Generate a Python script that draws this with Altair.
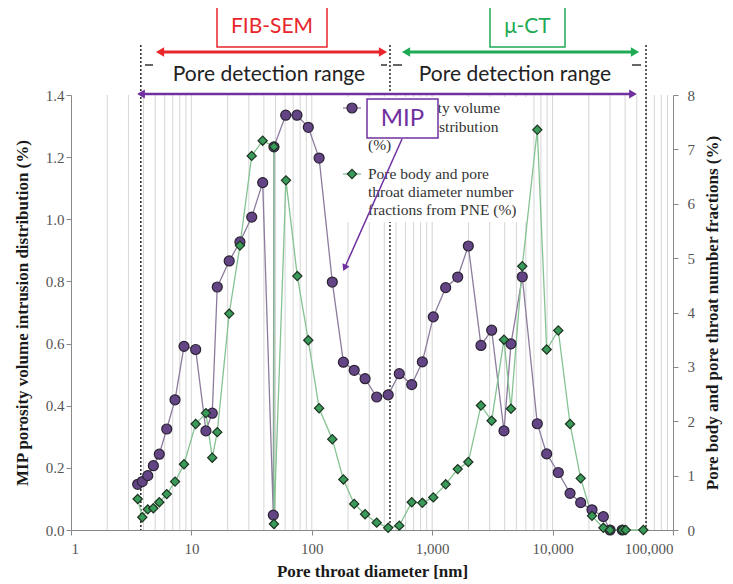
import altair as alt
import pandas as pd

# ---------------- data ----------------
mip_x = [3.58, 3.91, 4.34, 4.83, 5.41, 6.24, 7.31, 8.68, 10.85, 13.2, 14.9, 16.4, 20.6, 25.3,
         31.7, 39.1, 47.9, 48.5, 60.7, 75.3, 93.5, 115, 148, 183, 225, 277, 346, 431, 533,
         676, 828, 1021, 1294, 1629, 1995, 2541, 3118, 3945, 4511, 5600, 7460, 8930, 11150,
         13960, 17110, 21240, 26380, 29990, 37900]
mip_y = [0.147, 0.156, 0.175, 0.207, 0.244, 0.325, 0.419, 0.591, 0.581, 0.319, 0.376, 0.782,
         0.866, 0.927, 1.007, 1.118, 0.048, 1.233, 1.335, 1.335, 1.296, 1.197, 0.798, 0.540,
         0.514, 0.487, 0.428, 0.435, 0.503, 0.468, 0.541, 0.686, 0.780, 0.814, 0.914, 0.594,
         0.643, 0.319, 0.599, 0.815, 0.342, 0.245, 0.185, 0.118, 0.088, 0.065, 0.043, 0.0, 0.0]

pne_x = [3.58, 3.91, 4.34, 4.83, 5.41, 6.24, 7.31, 8.68, 10.85, 13.2, 14.9, 16.4, 20.6, 25.3,
         31.7, 39.1, 48.5, 48.5, 61, 75.8, 93.5, 115, 148, 183, 225, 277, 346, 431, 533, 676,
         828, 1021, 1294, 1629, 1995, 2541, 3118, 3945, 4511, 5600, 7460, 8930, 11150, 13960,
         17110, 21240, 26380, 29990, 37900, 40500, 56700]
pne_y = [0.571, 0.234, 0.38, 0.40, 0.51, 0.66, 0.89, 1.21, 1.95, 2.15, 1.33, 1.80, 3.98, 5.23,
         6.88, 7.16, 7.05, 0.11, 6.43, 4.67, 3.49, 2.24, 1.67, 0.93, 0.48, 0.29, 0.135, 0.04,
         0.08, 0.51, 0.50, 0.60, 0.84, 1.12, 1.25, 2.29, 2.01, 3.50, 2.23, 4.85, 7.36, 3.32,
         3.67, 1.95, 0.95, 0.26, 0.04, 0.0, 0.0, 0.0, 0.0]

x_ticks = [1, 10, 100, 1000, 10000, 100000]
grid_x = [2, 3, 4, 5, 6, 7, 8, 9, 10, 20, 30, 40, 50, 60, 70, 80, 90, 100,
          200, 300, 400, 500, 600, 700, 800, 900, 1000, 2000, 3000, 4000, 5000, 6000,
          7000, 8000, 9000, 10000, 20000, 30000, 40000, 50000, 60000, 70000, 80000, 90000]
range_limits = [3.8, 446, 59700]
left_ticks = [0.0, 0.2, 0.4, 0.6, 0.8, 1.0, 1.2, 1.4]
right_ticks = [0, 1, 2, 3, 4, 5, 6, 7, 8]

mip = pd.DataFrame({"d": mip_x, "v": mip_y, "i": list(range(len(mip_x)))})
pne = pd.DataFrame({"d": pne_x, "v": pne_y, "i": list(range(len(pne_x)))})
grid = pd.DataFrame({"d": grid_x})
limits = pd.DataFrame({"d": range_limits})
one = pd.DataFrame({"a": [0]})

W, H = 602, 435
xs = alt.Scale(type="log", domain=[1, 100000], nice=False)
xaxis = alt.Axis(values=x_ticks, format=",", title="Pore throat diameter [nm]", grid=False,
                 labelPadding=6, titlePadding=7, tickSize=5)
X = alt.X("d:Q", scale=xs, axis=xaxis)

ys_l = alt.Scale(domain=[0, 1.4], nice=False)
ys_r = alt.Scale(domain=[0, 8], nice=False)
laxis = alt.Axis(values=left_ticks, format=".1f", grid=False, tickSize=5,
                 title="MIP porosity volume intrusion distribution (%)", titlePadding=14)
raxis = alt.Axis(values=right_ticks, format="d", grid=False, orient="right", tickSize=5,
                 labelPadding=9, title="Pore body and pore throat number fractions (%)",
                 titleAngle=270, titleBaseline="top", titlePadding=10)

layers = []

# gridlines
layers.append(alt.Chart(grid).mark_rule(color="#d6d6d6", strokeWidth=1).encode(x=X))
# detection range limits (dotted)
layers.append(alt.Chart(limits).mark_rule(color="#333333", strokeWidth=1.6, strokeDash=[2, 2])
              .encode(x=X, y=alt.value(-50), y2=alt.value(H)))
# legend background
layers.append(alt.Chart(one).mark_rect(fill="white").encode(
    x=alt.value(269), x2=alt.value(459), y=alt.value(2), y2=alt.value(127)))

# series
layers.append(alt.Chart(mip).mark_line(color="#8c7c9e", strokeWidth=1.3).encode(
    x=X, y=alt.Y("v:Q", scale=ys_l, axis=laxis), order="i:Q"))
layers.append(alt.Chart(pne).mark_line(color="#86c392", strokeWidth=1.3).encode(
    x=X, y=alt.Y("v:Q", scale=ys_r, axis=raxis), order="i:Q"))
layers.append(alt.Chart(mip).mark_point(shape="circle", filled=True, fill="#634585",
                                        stroke="#2b2233", strokeWidth=1.2, size=100, opacity=1)
              .encode(x=X, y=alt.Y("v:Q", scale=ys_l, axis=None)))
layers.append(alt.Chart(pne).mark_point(shape="diamond", filled=True, fill="#3a9a5a",
                                        stroke="#1c3320", strokeWidth=1.2, size=85, opacity=1)
              .encode(x=X, y=alt.Y("v:Q", scale=ys_r, axis=None)))


def hline(x1, x2, y, color, w):
    return alt.Chart(one).mark_rule(color=color, strokeWidth=w).encode(
        x=alt.value(x1), x2=alt.value(x2), y=alt.value(y))


def tri(x, y, shape, color, size=90, angle=0):
    return alt.Chart(one).mark_point(shape=shape, filled=True, color=color, size=size,
                                     opacity=1, angle=angle).encode(
        x=alt.value(x), y=alt.value(y))


def box(x1, x2, y1, y2, color):
    return alt.Chart(one).mark_rect(fill="white", stroke=color, strokeWidth=1.5).encode(
        x=alt.value(x1), x2=alt.value(x2), y=alt.value(y1), y2=alt.value(y2))


def txt(x, y, s, color, size, font, align="center", weight="normal"):
    return alt.Chart(one).mark_text(color=color, fontSize=size, font=font, align=align,
                                    baseline="middle", fontWeight=weight).encode(
        x=alt.value(x), y=alt.value(y), text=alt.value(s))


RED, GREEN, PURPLE = "#e8262b", "#1faa55", "#7030a0"

# FIB-SEM / micro-CT arrows
layers += [hline(90, 311, -43, RED, 3), tri(89, -43, "triangle-left", RED),
           tri(312, -43, "triangle-right", RED)]
layers += [hline(336, 563, -43, GREEN, 3), tri(335, -43, "triangle-left", GREEN),
           tri(564, -43, "triangle-right", GREEN)]
layers += [box(146, 256, -88, -48, RED), txt(201, -68, "FIB-SEM", RED, 21, "Lato")]
layers += [box(419, 494, -88, -48, GREEN), txt(456.5, -68, "μ-CT", GREEN, 21, "Lato")]

# detection range labels and end marks
layers += [txt(198, -20, "Pore detection range", "#222222", 21, "Lato"),
           txt(444, -20, "Pore detection range", "#222222", 21, "Lato")]
layers += [hline(74, 82, -30, "#333333", 1.5), hline(310, 316, -30, "#333333", 1.5),
           hline(322, 331, -30, "#333333", 1.5), hline(561, 570, -30, "#333333", 1.5)]

# MIP range arrow
layers += [hline(71, 561, -1, PURPLE, 2.5), tri(70, -1, "triangle-left", PURPLE, 80),
           tri(562, -1, "triangle-right", PURPLE, 80)]

# legend
SERIF = "Liberation Serif"
layers += [hline(272, 290, 13, "#8c7c9e", 1.3)]
layers.append(alt.Chart(one).mark_point(shape="circle", filled=True, fill="#634585",
                                        stroke="#2b2233", strokeWidth=1.2, size=100, opacity=1)
              .encode(x=alt.value(281), y=alt.value(13)))
layers += [hline(272, 290, 79, "#86c392", 1.3)]
layers.append(alt.Chart(one).mark_point(shape="diamond", filled=True, fill="#3a9a5a",
                                        stroke="#1c3320", strokeWidth=1.2, size=85, opacity=1)
              .encode(x=alt.value(281), y=alt.value(79)))
leg1 = ["MIP porosity volume", "intrusion distribution", "(%)"]
leg2 = ["Pore body and pore", "throat diameter number", "fractions from PNE (%)"]
for k, s in enumerate(leg1):
    layers.append(txt(297, 13 + 18.5 * k, s, "#333333", 15.5, SERIF, align="left"))
for k, s in enumerate(leg2):
    layers.append(txt(297, 79 + 18 * k, s, "#333333", 15.5, SERIF, align="left"))

# MIP box and pointer
layers += [box(296, 367, 4, 43, PURPLE), txt(331.5, 24, "MIP", PURPLE, 24, "Lato")]
layers.append(alt.Chart(one).mark_rule(color=PURPLE, strokeWidth=1.5).encode(
    x=alt.value(331), y=alt.value(44), x2=alt.value(274), y2=alt.value(172)))
layers.append(tri(273.6, 173, "triangle-up", PURPLE, 60, angle=204))

chart = alt.layer(*layers).resolve_scale(y="independent").properties(
    width=W, height=H, autosize=alt.AutoSizeParams(type="none"),
    padding={"left": 63, "top": 87, "right": 52, "bottom": 54}
).configure_axis(
    labelFont=SERIF, labelFontSize=15, labelColor="#555555",
    titleFont=SERIF, titleFontSize=17, titleFontWeight="bold", titleColor="#1a1a1a",
    domainColor="#888888", tickColor="#888888"
).configure_view(stroke=None)

chart.save("out.html", embed_options={"renderer": "svg", "actions": False})
